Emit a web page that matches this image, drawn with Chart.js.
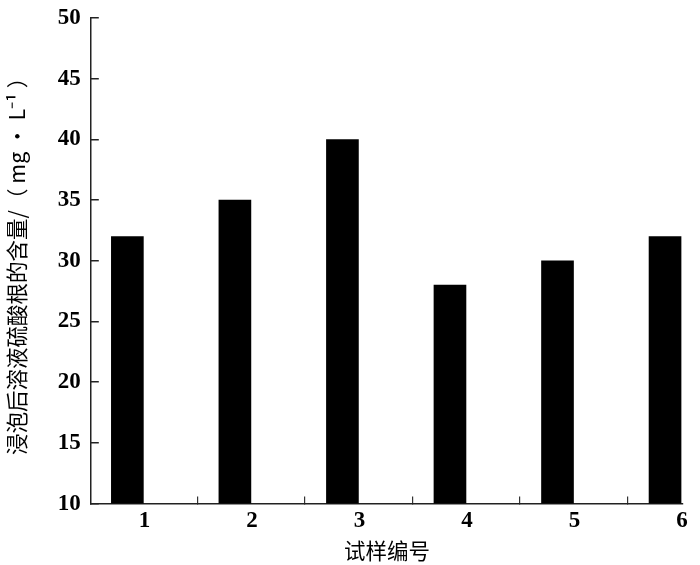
<!DOCTYPE html>
<html>
<head>
<meta charset="utf-8">
<script src="https://cdn.jsdelivr.net/npm/chart.js@4/dist/chart.umd.min.js"></script>
<style>
  body { margin: 0; background: #fff; }
</style>
</head>
<body>
<canvas id="grafica" width="700" height="565"></canvas>
<script>
// datos del gráfico
const muestras = [1, 2, 3, 4, 5, 6];
const etiquetas = ['1', '2', '3', '4', '5', '6'];
const sulfato = [32, 35, 40, 28, 30, 32];
const ticksY = [10, 15, 20, 25, 30, 35, 40, 45, 50];

const tituloY = '浸泡后溶液硫酸根的含量/（ mg · L⁻¹ ）';
const tituloX = '试样编号';

const fuenteNum = { family: "'Liberation Serif', 'DejaVu Serif', serif", size: 23, weight: 'bold' };
const fuenteCJK = { family: "'Noto Sans CJK SC', sans-serif", size: 21.5 };

const ctx = document.getElementById('grafica').getContext('2d');

new Chart(ctx, {
    type: 'bar',
    data: {
        datasets: [{
            data: muestras.map((m, i) => ({ x: m, y: sulfato[i] })),
            backgroundColor: '#000',
            barThickness: 32,
            xAxisID: 'x',
            yAxisID: 'y'
        }]
    },
    options: {
        responsive: false,
        animation: false,
        layout: { padding: { top: 0, right: 17, left: 4, bottom: -6 } },
        plugins: { legend: { display: false }, tooltip: { enabled: false } },
        scales: {
            x: {
                type: 'linear',
                position: 'bottom',
                offset: false,
                min: 0.66,
                max: 6.167,
                // marcas pequeñas hacia dentro entre las barras
                afterBuildTicks: s => {
                    s.ticks = muestras.slice(0, 5).map(m => ({ value: m + 0.65 }));
                },
                ticks: { display: false },
                grid: { offset: false, drawOnChartArea: false, tickLength: -7, color: '#333', lineWidth: 1.2 },
                border: { color: '#222', width: 1.5 }
            },
            x2: {
                type: 'linear',
                position: 'bottom',
                offset: false,
                min: 0.50,
                max: 6.01,
                afterBuildTicks: s => {
                    s.ticks = muestras.map(m => ({ value: m }));
                },
                ticks: {
                    color: '#000',
                    font: fuenteNum,
                    padding: 3,
                    callback: (v) => etiquetas[muestras.indexOf(v)]
                },
                grid: { display: false },
                border: { display: false },
                title: { display: true, text: tituloX, color: '#000', font: fuenteCJK, padding: { top: 0, bottom: 0 } }
            },
            y: {
                min: 10,
                max: 50,
                afterBuildTicks: s => {
                    s.ticks = ticksY.map(v => ({ value: v }));
                },
                ticks: { color: '#000', font: { ...fuenteNum, lineHeight: 0.01 }, padding: 18 },
                grid: { drawOnChartArea: false, tickLength: -8, color: '#222', lineWidth: 1.5 },
                border: { color: '#222', width: 1.5 },
                title: { display: true, text: tituloY, color: '#000', font: fuenteCJK, padding: { top: 0, bottom: 10 } }
            }
        }
    }
});
</script>
</body>
</html>
